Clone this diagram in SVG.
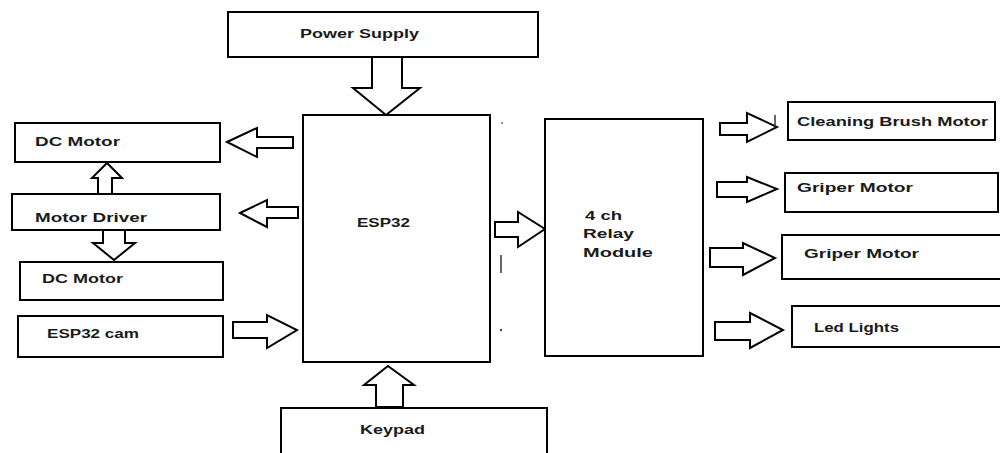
<svg xmlns="http://www.w3.org/2000/svg" width="1000" height="453" viewBox="0 0 1000 453">
<style>
.box{fill:#fff;stroke:#000;stroke-width:2}
.arr{fill:#fff;stroke:#000;stroke-width:2;stroke-linejoin:miter}
.lbl{font-family:"Liberation Sans",Arial,sans-serif;font-weight:bold;font-size:13px;fill:#1a1a1a}
.mark{stroke:#333;stroke-width:1.5}
</style>
<rect width="1000" height="453" fill="#fff"/>
<g id="connectors">
<polygon class="arr" points="372,57 402,57 402,88 420,88 386,115 353,88 372,88"/>
<polygon class="arr" points="388,366 414,385 403,385 403,407 376,407 376,385 364,385"/>
<polygon class="arr" points="227,142 257,128 257,137 293,137 293,148 257,148 257,157"/>
<polygon class="arr" points="240,213 267,200 267,207 298,207 298,218 267,218 267,227"/>
<polygon class="arr" points="107,163 122,178 112,178 112,195 98,195 98,178 92,178"/>
<polygon class="arr" points="103,230 125,230 125,243 135,243 114,260 93,243 103,243"/>
<polygon class="arr" points="233,322 267,322 267,315 297,330 267,348 267,338 233,338"/>
<polygon class="arr" points="495,222 518,222 518,212 545,229 518,247 518,237 495,237"/>
<polygon class="arr" points="720,123 747,123 747,113 777,127 747,142 747,135 720,135"/>
<polygon class="arr" points="717,182 747,182 747,177 777,189 747,202 747,197 717,197"/>
<polygon class="arr" points="710,248 743,248 743,243 775,258 743,275 743,267 710,267"/>
<polygon class="arr" points="715,322 750,322 750,313 783,330 750,348 750,340 715,340"/>
</g>
<g id="marks">
<circle cx="502" cy="123" r="1" fill="#666"/>
<line class="mark" x1="501" y1="255" x2="501" y2="273"/>
<circle cx="501" cy="330" r="1.2" fill="#444"/>
<line class="mark" x1="775" y1="115" x2="775" y2="127"/>
</g>
<g id="power-supply">
<rect class="box" x="228" y="12" width="310" height="45"/>
<text class="lbl" x="300" y="38" textLength="119" lengthAdjust="spacingAndGlyphs">Power Supply</text>
</g>
<g id="esp32">
<rect class="box" x="303" y="115" width="187" height="247"/>
<text class="lbl" x="357" y="227" textLength="53" lengthAdjust="spacingAndGlyphs">ESP32</text>
</g>
<g id="keypad">
<rect class="box" x="281" y="408" width="266" height="55"/>
<text class="lbl" x="360" y="434" textLength="65" lengthAdjust="spacingAndGlyphs">Keypad</text>
</g>
<g id="dc-motor-1">
<rect class="box" x="15" y="123" width="205" height="39"/>
<text class="lbl" x="35" y="146" textLength="85" lengthAdjust="spacingAndGlyphs">DC Motor</text>
</g>
<g id="motor-driver">
<rect class="box" x="12" y="194" width="208" height="36"/>
<text class="lbl" x="35" y="222" textLength="112" lengthAdjust="spacingAndGlyphs">Motor Driver</text>
</g>
<g id="dc-motor-2">
<rect class="box" x="20" y="262" width="203" height="38"/>
<text class="lbl" x="42" y="283" textLength="81" lengthAdjust="spacingAndGlyphs">DC Motor</text>
</g>
<g id="esp32-cam">
<rect class="box" x="18" y="316" width="205" height="41"/>
<text class="lbl" x="47" y="338" textLength="92" lengthAdjust="spacingAndGlyphs">ESP32 cam</text>
</g>
<g id="relay">
<rect class="box" x="545" y="119" width="158" height="237"/>
<text class="lbl" x="585" y="220" textLength="37" lengthAdjust="spacingAndGlyphs">4 ch</text>
<text class="lbl" x="583" y="238" textLength="51" lengthAdjust="spacingAndGlyphs">Relay</text>
<text class="lbl" x="583" y="257" textLength="70" lengthAdjust="spacingAndGlyphs">Module</text>
</g>
<g id="cleaning-brush-motor">
<rect class="box" x="788" y="102" width="207" height="38"/>
<text class="lbl" x="797" y="126" textLength="191" lengthAdjust="spacingAndGlyphs">Cleaning Brush Motor</text>
</g>
<g id="griper-motor-1">
<rect class="box" x="785" y="173" width="213" height="39"/>
<text class="lbl" x="797" y="192" textLength="116" lengthAdjust="spacingAndGlyphs">Griper Motor</text>
</g>
<g id="griper-motor-2">
<rect class="box" x="782" y="235" width="222" height="44"/>
<text class="lbl" x="804" y="258" textLength="115" lengthAdjust="spacingAndGlyphs">Griper Motor</text>
</g>
<g id="led-lights">
<rect class="box" x="792" y="306" width="212" height="41"/>
<text class="lbl" x="814" y="332" textLength="85" lengthAdjust="spacingAndGlyphs">Led Lights</text>
</g>
</svg>
